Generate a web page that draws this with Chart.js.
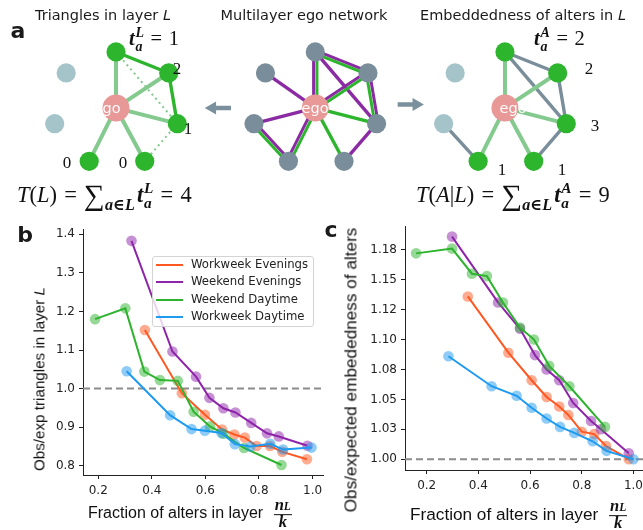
<!DOCTYPE html>
<html>
<head>
<meta charset="utf-8">
<script src="https://cdn.jsdelivr.net/npm/chart.js@4.4.1/dist/chart.umd.min.js"></script>
<style>
html,body{margin:0;padding:0;background:#fff;overflow:hidden;}
#fig{position:relative;width:643px;height:530px;overflow:hidden;font-family:'DejaVu Sans',sans-serif;color:#1a1a1a;}
canvas{position:absolute;}
.t{position:absolute;white-space:nowrap;transform:translate(-50%,-50%);line-height:1;}
.l{position:absolute;white-space:nowrap;transform:translate(0,-50%);line-height:1;}
.title{font-size:14.5px;}
.letter{font-weight:bold;font-size:22px;}
.mt{font-family:'Liberation Serif','DejaVu Serif',serif;color:#111;}
.bi{font-weight:bold;font-style:italic;}
.ss{display:inline-block;vertical-align:-0.42em;font-size:0.68em;line-height:1.0;margin-left:0.06em;}
.ss>span{display:block;}
.big{font-size:1.3em;vertical-align:-0.1em;}
.sb{font-size:0.72em;vertical-align:-0.5em;margin-right:0.12em;}
.rel{margin:0 0.32em;}
.num{font-size:17px;}
.eq{font-size:20.5px;}
.formula{font-size:22.5px;}
.ego{color:#fbfbfb;font-size:14.5px;}
.axt{font-family:'Liberation Sans',Arial,sans-serif;font-size:16px;color:#111;}
.axc{font-size:17.2px;}
.axy{font-size:15.2px;}
.rot{transform:translate(-50%,-50%) rotate(-90deg);}
.frac{display:inline-block;vertical-align:middle;text-align:center;font-family:'Liberation Serif',serif;font-size:16.5px;line-height:0.9;margin-left:6px;}
.frac>span{display:block;}
.frac>span:first-child{border-bottom:1.4px solid #111;padding:0 1px 1px 1px;}
#legend{position:absolute;left:152px;top:256px;width:160px;height:69px;border:1px solid #d4d4d4;border-radius:3px;background:rgba(255,255,255,0.8);}
#legend .row{position:absolute;left:0;height:0;}
#legend .sw{position:absolute;left:3px;width:27px;height:2px;top:-1px;}
#legend .lt{position:absolute;left:38px;top:0;transform:translate(0,-50%);font-size:11.7px;white-space:nowrap;line-height:1;color:#222;}
</style>
</head>
<body>
<div id="fig">
  <canvas id="net" width="643" height="215" style="left:0;top:0"></canvas>
  <canvas id="cb" width="340" height="315" style="left:0;top:215px"></canvas>
  <canvas id="cc" width="340" height="315" style="left:320px;top:215px"></canvas>
  <div id="labels"></div>
  <div id="legend"></div>
</div>
<script>
// ---- panel b: obs/exp triangles in layer L ----
const bWorkweekEveningsX = [0.374, 0.512, 0.598, 0.662, 0.708, 0.747, 0.791, 0.841, 0.887, 0.979];
const bWorkweekEveningsY = [1.152, 0.988, 0.932, 0.894, 0.881, 0.873, 0.851, 0.851, 0.836, 0.817];
const bWeekendEveningsX  = [0.324, 0.477, 0.565, 0.615, 0.667, 0.712, 0.771, 0.830, 0.874, 0.981];
const bWeekendEveningsY  = [1.383, 1.096, 1.031, 0.976, 0.949, 0.938, 0.911, 0.884, 0.876, 0.852];
const bWeekendDaytimeX   = [0.188, 0.301, 0.372, 0.430, 0.497, 0.556, 0.617, 0.667, 0.744, 0.884];
const bWeekendDaytimeY   = [1.180, 1.208, 1.044, 1.022, 1.020, 0.940, 0.902, 0.883, 0.846, 0.802];
const bWorkweekDaytimeX  = [0.306, 0.468, 0.548, 0.598, 0.660, 0.710, 0.768, 0.842, 0.890, 0.996];
const bWorkweekDaytimeY  = [1.045, 0.931, 0.895, 0.891, 0.885, 0.856, 0.850, 0.857, 0.842, 0.847];

// ---- panel c: obs/expected embeddedness of alters ----
const cWorkweekEveningsX = [0.359, 0.516, 0.606, 0.664, 0.713, 0.748, 0.800, 0.848, 0.894, 0.982];
const cWorkweekEveningsY = [1.136, 1.089, 1.066, 1.052, 1.044, 1.037, 1.023, 1.021, 1.011, 1.000];
const cWeekendEveningsX  = [0.298, 0.476, 0.561, 0.619, 0.664, 0.713, 0.767, 0.836, 0.874, 0.982];
const cWeekendEveningsY  = [1.186, 1.131, 1.109, 1.087, 1.075, 1.066, 1.047, 1.032, 1.025, 1.005];
const cWeekendDaytimeX   = [0.159, 0.298, 0.375, 0.433, 0.495, 0.561, 0.615, 0.674, 0.752, 0.890];
const cWeekendDaytimeY   = [1.172, 1.176, 1.155, 1.153, 1.131, 1.110, 1.100, 1.078, 1.061, 1.027];
const cWorkweekDaytimeX  = [0.284, 0.451, 0.548, 0.606, 0.664, 0.716, 0.771, 0.842, 0.896, 1.000];
const cWorkweekDaytimeY  = [1.086, 1.061, 1.053, 1.043, 1.034, 1.027, 1.022, 1.015, 1.007, 1.000];

const seriesNames = ['Workweek Evenings', 'Weekend Evenings', 'Weekend Daytime', 'Workweek Daytime'];
const xTickValues = [0.2, 0.4, 0.6, 0.8, 1.0];
const bYTickValues = [0.8, 0.9, 1.0, 1.1, 1.2, 1.3, 1.4];
const cYTickValues = [1.0, 1.025, 1.05, 1.075, 1.1, 1.125, 1.15, 1.175];
const cYTickLabels = ['1.00', '1.03', '1.05', '1.08', '1.10', '1.12', '1.15', '1.18'];
const bLimits = {xMin: 0.143, xMax: 1.039, yMin: 0.776, yMax: 1.4137};
const cLimits = {xMin: 0.116, xMax: 1.037, yMin: 0.991, yMax: 1.1947};

// ---- panel a: the ego network ----
const nodeNames = ['ego', 'top', 'rightTop', 'right', 'bottomRight', 'bottomLeft', 'left', 'leftTop'];
const nodeDx = [0, 0, 55, 64, 30, -28, -64, -52];
const nodeDy = [0, -64, -40, 18, 61, 61, 18, -40];
const greenLayerEdges = [['ego','top'], ['ego','rightTop'], ['bottomLeft','ego'], ['ego','right'], ['ego','bottomRight'],
                         ['top','rightTop'], ['rightTop','right'], ['left','bottomLeft']];
const purpleLayerEdges = [['ego','top'], ['ego','rightTop'], ['bottomLeft','ego'], ['ego','leftTop'], ['ego','left'],
                          ['top','rightTop'], ['rightTop','right'], ['left','bottomLeft'], ['top','right'], ['right','bottomRight']];

const colours = ['#ff5722', '#8e24aa', '#2db32d', '#1e9af0'];
const GREEN = '#2db52d', LIGHTGREEN = '#84ca8f', PURPLE = '#8a2ba3', SLATE = '#798e9a', PALE = '#a5c4ca', EGO = '#e89896';

function rgba(hex, a){
  const n = parseInt(hex.slice(1), 16);
  return `rgba(${n>>16},${(n>>8)&255},${n&255},${a})`;
}
const key = (a,b) => [a,b].sort().join('|');

// ---------------- network diagrams ----------------
const egoX = [107, 315, 513], egoY = 108;
function pos(d, name){
  const i = nodeNames.indexOf(name);
  return {x: egoX[d] + nodeDx[i], y: egoY + nodeDy[i]};
}
function edge(p, q, color, width, dash){
  return {data:[p, q], showLine:true, borderColor:color, borderWidth:width, borderDash:dash||[], pointRadius:0, order:10};
}
function shifted(p, q, s){
  const dx = q.x - p.x, dy = q.y - p.y, len = Math.hypot(dx, dy);
  const nx = -dy/len*s, ny = dx/len*s;
  return [{x:p.x+nx, y:p.y+ny}, {x:q.x+nx, y:q.y+ny}];
}

const greenKeys = new Set(greenLayerEdges.map(e => key(...e)));
const purpleKeys = new Set(purpleLayerEdges.map(e => key(...e)));
const inLayer = new Set(greenLayerEdges.filter(e => e.includes('ego')).map(e => e[0]==='ego' ? e[1] : e[0]));
const allEdges = [...greenLayerEdges, ...purpleLayerEdges.filter(e => !greenKeys.has(key(...e)))];
const alterEdges = allEdges.filter(e => !e.includes('ego'));

const netSets = [];
// nodes (drawn on top)
[0,1,2].forEach(d => {
  const pts = nodeNames.map(n => pos(d, n));
  const fill = nodeNames.map(n => n==='ego' ? EGO : d===1 ? SLATE : inLayer.has(n) ? GREEN : PALE);
  const rad = nodeNames.map(n => n==='ego' ? 13.5 : 9.6);
  netSets.push({data:pts, pointRadius:rad, pointBackgroundColor:fill, pointBorderWidth:0, showLine:false, order:0});
});
// left: layer L only
inLayer.forEach(n => netSets.push(edge(pos(0,'ego'), pos(0,n), LIGHTGREEN, 4)));
alterEdges.forEach(e => {
  if(!(inLayer.has(e[0]) && inLayer.has(e[1]))) return;
  if(greenKeys.has(key(...e))) netSets.push(edge(pos(0,e[0]), pos(0,e[1]), GREEN, 3.4));
  else netSets.push(edge(pos(0,e[0]), pos(0,e[1]), LIGHTGREEN, 2, [2,3.5]));
});
// middle: both layers
allEdges.forEach(e => {
  const p = pos(1,e[0]), q = pos(1,e[1]), k = key(...e);
  if(greenKeys.has(k) && purpleKeys.has(k)){
    const g = shifted(p, q, 1.75), v = shifted(p, q, -1.75);
    netSets.push(edge(g[0], g[1], GREEN, 3), edge(v[0], v[1], PURPLE, 3));
  } else netSets.push(edge(p, q, greenKeys.has(k) ? GREEN : PURPLE, 3.4));
});
// right: embeddedness across layers
inLayer.forEach(n => netSets.push(edge(pos(2,'ego'), pos(2,n), LIGHTGREEN, 4)));
alterEdges.forEach(e => netSets.push(edge(pos(2,e[0]), pos(2,e[1]), SLATE, 3.4)));
// arrows between diagrams
netSets.push({data:[{x:227,y:108},{x:207.5,y:108}], showLine:true, borderColor:'#7a909c', borderWidth:4.5,
  pointRadius:[0,7.5], pointStyle:'triangle', pointRotation:-90, pointBackgroundColor:'#7a909c', pointBorderWidth:0, order:5});
netSets.push({data:[{x:401,y:104},{x:420.5,y:104}], showLine:true, borderColor:'#7a909c', borderWidth:4.5,
  pointRadius:[0,7.5], pointStyle:'triangle', pointRotation:90, pointBackgroundColor:'#7a909c', pointBorderWidth:0, order:5});

new Chart(document.getElementById('net'), {
  type:'scatter',
  data:{datasets:netSets},
  options:{
    responsive:false, animation:false, events:[],
    layout:{padding:0},
    plugins:{legend:{display:false}, tooltip:{enabled:false}},
    scales:{
      x:{type:'linear', min:0, max:643, display:false},
      y:{type:'linear', min:0, max:215, reverse:true, display:false}
    }
  }
});

// ---------------- line panels ----------------
function panelSets(xs, ys, lim){
  const sets = seriesNames.map((name, i) => ({
    label:name, data:xs[i].map((x,j) => ({x, y:ys[i][j]})), showLine:true,
    borderColor:colours[i], borderWidth:2, pointRadius:5.3, pointBackgroundColor:rgba(colours[i],0.5),
    pointBorderWidth:0, order:4-i
  }));
  sets.push({data:[{x:lim.xMin,y:1},{x:lim.xMax,y:1}], showLine:true, borderColor:'#8c8c8c', borderWidth:2,
    borderDash:[7,4], pointRadius:0, order:9});
  return sets;
}
function panel(id, sets, lim, yTicks, yLabel, yWidth, xHeight, top){
  const tickFont = {family:'DejaVu Sans', size:12};
  new Chart(document.getElementById(id), {
    type:'scatter',
    data:{datasets:sets},
    options:{
      responsive:false, animation:false, events:[],
      layout:{padding:{top:top, right:17, left:0, bottom:0}},
      plugins:{legend:{display:false}, tooltip:{enabled:false}},
      scales:{
        x:{type:'linear', min:lim.xMin, max:lim.xMax,
          afterBuildTicks:s => { s.ticks = xTickValues.map(v => ({value:v})); },
          afterFit:s => { s.height = xHeight; },
          ticks:{callback:v => v.toFixed(1), font:tickFont, color:'#222', padding:5, maxRotation:0, autoSkip:false},
          grid:{drawOnChartArea:false, tickLength:4, tickColor:'#222'},
          border:{color:'#222', width:1}},
        y:{type:'linear', min:lim.yMin, max:lim.yMax,
          afterBuildTicks:s => { s.ticks = yTicks.map(v => ({value:v})); },
          afterFit:s => { s.width = yWidth; },
          ticks:{callback:(v,i) => yLabel(v,i), font:tickFont, color:'#222', padding:4, autoSkip:false},
          grid:{drawOnChartArea:false, tickLength:4, tickColor:'#222'},
          border:{color:'#222', width:1}}
      }
    }
  });
}
panel('cb', panelSets([bWorkweekEveningsX, bWeekendEveningsX, bWeekendDaytimeX, bWorkweekDaytimeX],
                      [bWorkweekEveningsY, bWeekendEveningsY, bWeekendDaytimeY, bWorkweekDaytimeY], bLimits),
      bLimits, bYTickValues, v => v.toFixed(1), 83, 55, 14);
panel('cc', panelSets([cWorkweekEveningsX, cWeekendEveningsX, cWeekendDaytimeX, cWorkweekDaytimeX],
                      [cWorkweekEveningsY, cWeekendEveningsY, cWeekendDaytimeY, cWorkweekDaytimeY], cLimits),
      cLimits, cYTickValues, (v,i) => cYTickLabels[i], 85, 60, 7);

// ---------------- text ----------------
const labels = document.getElementById('labels');
function put(html, x, y, cls, anchorLeft){
  const d = document.createElement('div');
  d.className = (anchorLeft ? 'l ' : 't ') + (cls||'');
  d.style.left = x + 'px'; d.style.top = y + 'px';
  d.innerHTML = html;
  labels.appendChild(d);
}
const tv = s => `<span class="bi">t</span><span class="ss"><span class="bi">${s}</span><span class="bi">a</span></span>`;
const eq = '<span class="rel">=</span>';

// per-alter triangle counts
const tL = {}, tA = {};
inLayer.forEach(n => { tL[n] = 0; tA[n] = 0; });
alterEdges.forEach(e => {
  const both = inLayer.has(e[0]) && inLayer.has(e[1]);
  e.forEach(n => {
    if(!inLayer.has(n)) return;
    tA[n]++;
    if(both && greenKeys.has(key(...e))) tL[n]++;
  });
});
const sum = o => Object.values(o).reduce((a,b) => a+b, 0);

put('a', 18, 31, 'letter');
put('b', 25, 235, 'letter');
put('c', 331, 230, 'letter');
put('Triangles in layer <i>L</i>', 103, 15, 'title');
put('Multilayer ego network', 304, 15, 'title');
put('Embeddedness of alters in <i>L</i>', 523, 15, 'title');
[0,1,2].forEach(d => put('ego', egoX[d], egoY, 'ego'));

const leftOff = {top:[22,-4], rightTop:[15,0], right:[17,2], bottomLeft:[-12,-7], bottomRight:[-14,-7]};
const rightOff = {top:[21,-4], rightTop:[21,0], right:[18,-1], bottomLeft:[17,0], bottomRight:[19,0]};
inLayer.forEach(n => {
  const p0 = pos(0,n), p2 = pos(2,n);
  if(n === 'top'){
    put(`${tv('L')}${eq}${tL[n]}`, p0.x+leftOff[n][0], p0.y+leftOff[n][1], 'mt eq', true);
    put(`${tv('A')}${eq}${tA[n]}`, p2.x+rightOff[n][0], p2.y+rightOff[n][1], 'mt eq', true);
  } else {
    put(String(tL[n]), p0.x+leftOff[n][0], p0.y+leftOff[n][1], 'mt num');
    put(String(tA[n]), p2.x+rightOff[n][0], p2.y+rightOff[n][1], 'mt num');
  }
});
const sigma = `<span class="big">&sum;</span><span class="sb bi">a&isin;L</span>`;
put(`<i>T</i>(<i>L</i>)${eq}${sigma}${tv('L')}${eq}${sum(tL)}`, 17, 197, 'mt formula', true);
put(`<i>T</i>(<i>A</i>|<i>L</i>)${eq}${sigma}${tv('A')}${eq}${sum(tA)}`, 416, 197, 'mt formula', true);

// axis titles
const frac = `<span class="frac"><span><span class="bi">n</span><span class="bi" style="font-size:0.7em">L</span></span><span class="bi">k</span></span>`;
put(`Fraction of alters in layer ${frac}`, 88, 514, 'axt', true);
put(`Fraction of alters in layer ${frac}`, 410, 515, 'axt axc', true);
put('Obs/exp triangles in layer <i>L</i>', 38.5, 379, 'axt axy rot');
put('Obs/expected embededness of alters', 350.5, 370, 'axt axc rot');

// legend
const lg = document.getElementById('legend');
seriesNames.forEach((name, i) => {
  const r = document.createElement('div');
  r.className = 'row';
  r.style.top = (8.3 + i*17.1) + 'px';
  r.innerHTML = `<div class="sw" style="background:${colours[i]}"></div><div class="lt">${name}</div>`;
  lg.appendChild(r);
});
</script>
</body>
</html>
